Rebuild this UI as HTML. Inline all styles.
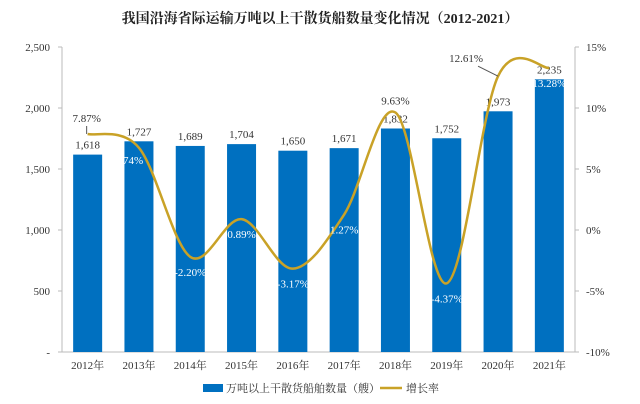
<!DOCTYPE html>
<html><head><meta charset="utf-8"><style>
body{margin:0;background:#fff;}
svg{display:block;font-family:"Liberation Serif","Noto Serif CJK SC",serif;}
</style></head><body>
<svg id="c" width="640" height="404">
<text x="320" y="23" text-anchor="middle" font-size="14" font-weight="bold" fill="#222">我国沿海省际运输万吨以上干散货船数量变化情况（2012-2021）</text>
<g id="g"></g>
<g>
<rect x="203" y="384" width="20" height="8" fill="#0070C0"/>
<text x="226" y="392" font-size="11" fill="#333">万吨以上干散货船舶数量（艘）</text>
<line x1="380" y1="388" x2="402" y2="388" stroke="#C9A227" stroke-width="2.5"/>
<text x="406" y="392" font-size="11" fill="#333">增长率</text>
</g>
</svg>
<script>
const categories=["2012年","2013年","2014年","2015年","2016年","2017年","2018年","2019年","2020年","2021年"];
const counts=[1618,1727,1689,1704,1650,1671,1832,1752,1973,2235];
const rates=[7.87,6.74,-2.20,0.89,-3.17,1.27,9.63,-4.37,12.61,13.28];
const leftTicks=[0,500,1000,1500,2000,2500];
const rightTicks=[-10,-5,0,5,10,15];
const X0=62,X1=575,Y0=352,Y1=47;
const bw=(X1-X0)/categories.length;
const xc=i=>X0+bw*(i+0.5);
const yL=v=>Y0-(v/2500)*(Y0-Y1);
const yR=v=>Y0-((v+10)/25)*(Y0-Y1);
const g=document.getElementById('g');
const NS="http://www.w3.org/2000/svg";
function mk(t,a){const e=document.createElementNS(NS,t);for(const k in a)e.setAttribute(k,a[k]);g.appendChild(e);return e;}
let e;
e=mk('line',{x1:X0,y1:Y1,x2:X0,y2:Y0,stroke:'#bbb'});


e=mk('line',{x1:X1,y1:Y1,x2:X1,y2:Y0,stroke:'#bbb'});


e=mk('line',{x1:X0,y1:Y0,x2:X1,y2:Y0,stroke:'#bbb'});


leftTicks.forEach(v=>{const t=mk('text',{x:50,y:yL(v)+4,'text-anchor':'end','font-size':11,fill:'#333'});t.textContent=v===0?'-':v.toLocaleString('en-US');


const l=mk('line',{x1:X0-4,y1:yL(v),x2:X0,y2:yL(v),stroke:'#bbb'});});
rightTicks.forEach(v=>{const t=mk('text',{x:586,y:yR(v)+4,'font-size':11,fill:'#333'});t.textContent=v+'%';


mk('line',{x1:X1,y1:yR(v),x2:X1+4,y2:yR(v),stroke:'#bbb'});});
categories.forEach((c,i)=>{
const b=mk('rect',{x:xc(i)-14.5,y:yL(counts[i]),width:29,height:Y0-yL(counts[i]),fill:'#0070C0'});


const t=mk('text',{x:xc(i),y:yL(counts[i])-6,'text-anchor':'middle','font-size':11,fill:'#333'});t.textContent=counts[i].toLocaleString('en-US');


const xl=mk('text',{x:xc(i),y:Y0+17,'text-anchor':'middle','font-size':11,fill:'#333'});xl.textContent=c;


});
// smooth line
const P=rates.map((r,i)=>[xc(i),yR(r)]);
let d='M'+P[0][0]+','+P[0][1];
for(let i=0;i<P.length-1;i++){const p0=P[Math.max(0,i-1)],p1=P[i],p2=P[i+1],p3=P[Math.min(P.length-1,i+2)];
const c1=[p1[0]+(p2[0]-p0[0])/6,p1[1]+(p2[1]-p0[1])/6],c2=[p2[0]-(p3[0]-p1[0])/6,p2[1]-(p3[1]-p1[1])/6];
d+=` C${c1[0]},${c1[1]} ${c2[0]},${c2[1]} ${p2[0]},${p2[1]}`;}
const ln=mk('path',{d:d,fill:'none',stroke:'#C9A227','stroke-width':2.5});


const offs=[[-1,-16,'#333'],[-10,12,'#fff'],[0,15,'#fff'],[0,15,'#fff'],[0,15,'#fff'],[0,15,'#fff'],[0,-12,'#333'],[0,15,'#fff'],[-32,-18,'#333'],[0,15,'#fff']];
rates.forEach((r,i)=>{const o=offs[i];const t=mk('text',{x:P[i][0]+o[0],y:P[i][1]+o[1]+4,'text-anchor':'middle','font-size':11,fill:o[2]});t.textContent=r.toFixed(2)+'%';

});
mk('path',{d:`M${P[0][0]-1},${P[0][1]-8} L${P[0][0]-1},${P[0][1]}`,stroke:'#555',fill:'none'});
mk('path',{d:`M${P[8][0]-20},${P[8][1]-10} L${P[8][0]},${P[8][1]}`,stroke:'#555',fill:'none'});
</script>
</body></html>
